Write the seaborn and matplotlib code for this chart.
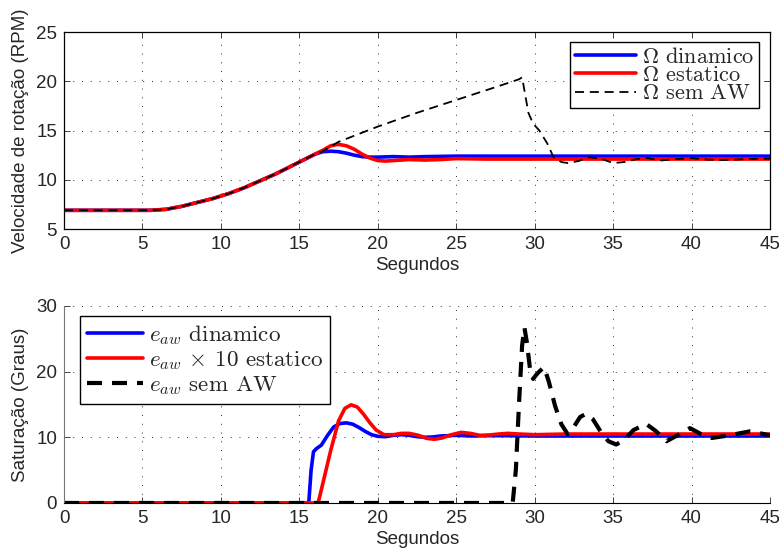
import seaborn as sns
import matplotlib.pyplot as plt

# Velocidade de rotação (RPM) - gráfico de cima
t_din = [0, 5.5, 6.5, 7.5, 8.5, 9.5, 10.5, 11.5, 12.5, 13.5, 14.5, 15.5, 16, 16.5, 17, 17.5,
         18, 18.5, 19, 19.5, 20, 21, 22, 23, 25, 30, 45]
w_din = [6.9, 6.9, 7.0, 7.3, 7.7, 8.1, 8.6, 9.2, 9.9, 10.6, 11.4, 12.2, 12.6, 12.85, 12.9, 12.85,
         12.7, 12.5, 12.35, 12.3, 12.3, 12.35, 12.3, 12.35, 12.4, 12.4, 12.4]

t_est = [0, 5.5, 6.5, 7.5, 8.5, 9.5, 10.5, 11.5, 12.5, 13.5, 14.5, 15.5, 16, 16.5, 17, 17.5,
         18, 18.5, 19, 19.5, 20, 20.5, 21, 22, 23, 24, 25, 27, 30, 45]
w_est = [6.9, 6.9, 7.0, 7.3, 7.7, 8.1, 8.6, 9.2, 9.9, 10.6, 11.4, 12.2, 12.6, 13.0, 13.45, 13.6,
         13.45, 13.1, 12.6, 12.2, 11.95, 11.9, 11.95, 12.05, 12.0, 12.05, 12.15, 12.1, 12.1, 12.1]

t_saw = [0, 5.5, 6.5, 7.5, 8.5, 9.5, 10.5, 11.5, 12.5, 13.5, 14.5, 15.5, 16, 16.5, 17, 17.5,
         20, 22.5, 25, 27.5, 29, 29.2, 29.6, 29.9, 30.3, 30.8, 31.2, 31.7, 32.1, 32.8, 33.5,
         34.3, 35, 35.7, 36.5, 37.2, 38, 39, 40, 41, 42, 43.5, 45]
w_saw = [6.9, 6.9, 7.0, 7.3, 7.7, 8.1, 8.6, 9.2, 9.9, 10.6, 11.4, 12.2, 12.6, 12.9, 13.4, 13.85,
         15.4, 16.8, 18.1, 19.4, 20.2, 20.4, 16.8, 15.7, 15.0, 13.7, 12.3, 11.8, 11.7, 11.9, 12.3,
         12.1, 11.7, 11.8, 12.1, 12.2, 11.95, 12.1, 12.2, 12.05, 12.0, 12.1, 12.15]

# Saturação (Graus) - gráfico de baixo
te_din = [0, 15.6, 15.75, 15.9, 16.1, 16.4, 16.8, 17.2, 17.6, 18.0, 18.4, 18.8, 19.2, 19.6, 20.0,
          20.5, 21.0, 21.5, 22.0, 22.5, 23.0, 23.5, 24.0, 25, 26, 27, 28, 30, 45]
e_din = [0, 0, 5.0, 7.8, 8.3, 8.8, 10.3, 11.6, 12.1, 12.2, 12.0, 11.5, 10.9, 10.4, 10.15,
         10.1, 10.3, 10.4, 10.3, 10.1, 10.0, 10.05, 10.2, 10.3, 10.2, 10.25, 10.25, 10.2, 10.2]

te_est = [0, 16.2, 16.5, 17.0, 17.5, 17.9, 18.3, 18.7, 19.1, 19.5, 19.9, 20.4, 21.0, 21.5, 22.0,
          22.6, 23.1, 23.6, 24.1, 24.7, 25.3, 25.9, 26.5, 27.1, 27.7, 28.3, 29, 30, 32, 45]
e_est = [0, 0, 3.0, 8.0, 12.5, 14.4, 14.95, 14.6, 13.5, 12.2, 11.1, 10.4, 10.4, 10.6, 10.6,
         10.3, 9.85, 9.7, 9.9, 10.4, 10.75, 10.6, 10.3, 10.35, 10.5, 10.6, 10.5, 10.4, 10.5, 10.5]

te_saw = [0, 28.6, 28.8, 29.0, 29.2, 29.35, 29.5, 29.7, 29.9, 30.2, 30.6, 30.9, 31.3, 31.7, 32.1,
          32.5, 32.9, 33.3, 33.7, 34.2, 34.7, 35.2, 35.7, 36.3, 37.1, 37.7, 38.4, 39.1, 39.9,
          40.6, 41.3, 42.4, 43.7, 44.4, 45]
e_saw = [0, 0, 5, 15, 24, 26.7, 24.5, 20.5, 18.9, 19.8, 20.7, 18.5, 14.8, 12.0, 10.5,
         11.6, 13.1, 13.6, 12.8, 10.9, 9.4, 8.9, 9.6, 11.1, 12.05, 11.0, 9.4, 10.3, 11.4,
         10.5, 9.9, 10.3, 10.9, 10.6, 10.3]

sns.set_style("ticks")
plt.rcParams["font.family"] = ["Liberation Sans", "DejaVu Sans"]
plt.rcParams["mathtext.fontset"] = "cm"

FS = 13.5

fig = plt.figure(figsize=(7.79, 5.54), dpi=100)
ax1 = fig.add_axes([0.0822, 0.5866, 0.9062, 0.3556])
ax2 = fig.add_axes([0.0822, 0.0921, 0.9062, 0.3556])

grid_kw = dict(color="#333333", linewidth=0.7, linestyle=(0, (1, 8)))

# Gráfico de cima
sns.lineplot(x=t_din, y=w_din, ax=ax1, color="blue", linewidth=2.6, label=r"$\Omega$ dinamico")
sns.lineplot(x=t_est, y=w_est, ax=ax1, color="red", linewidth=2.6, label=r"$\Omega$ estatico")
sns.lineplot(x=t_saw, y=w_saw, ax=ax1, color="black", linewidth=1.3, linestyle=(0, (5, 3.2)),
             label=r"$\Omega$ sem AW")
ax1.set_xlim(0, 45)
ax1.set_ylim(5, 25)
ax1.set_xticks(range(0, 46, 5))
ax1.set_yticks(range(5, 26, 5))
ax1.set_xlabel("Segundos", fontsize=FS, labelpad=3)
ax1.set_ylabel("Velocidade de rotação (RPM)", fontsize=FS, labelpad=5)
ax1.grid(True, **grid_kw)
ax1.tick_params(direction="in", top=True, right=True, labelsize=FS, length=4, width=0.6, pad=5)
for s in ax1.spines.values():
    s.set_linewidth(0.9)
    s.set_color("black")
leg1 = ax1.legend(loc="upper right", bbox_to_anchor=(0.984, 0.949), prop={"family": "cmr10", "size": 16},
                  handlelength=2.75, handletextpad=0.27, labelspacing=-0.05, borderpad=0.2,
                  borderaxespad=0, fancybox=False, framealpha=1, edgecolor="black")
leg1.get_frame().set_linewidth(1.0)

# Gráfico de baixo
sns.lineplot(x=te_din, y=e_din, ax=ax2, color="blue", linewidth=2.6, label=r"$e_{aw}$ dinamico")
sns.lineplot(x=te_est, y=e_est, ax=ax2, color="red", linewidth=2.6,
             label=r"$e_{aw}$ $\times$ 10 estatico")
sns.lineplot(x=te_saw, y=e_saw, ax=ax2, color="black", linewidth=3.0, linestyle=(0, (3.6, 2.4)),
             label=r"$e_{aw}$ sem AW")
ax2.set_xlim(0, 45)
ax2.set_ylim(0, 30)
ax2.set_xticks(range(0, 46, 5))
ax2.set_yticks(range(0, 31, 10))
ax2.set_xlabel("Segundos", fontsize=FS, labelpad=3)
ax2.set_ylabel("Saturação (Graus)", fontsize=FS, labelpad=5)
ax2.grid(True, **grid_kw)
ax2.tick_params(direction="in", labelsize=FS, length=4, width=0.6, pad=5)
ax2.spines["top"].set_visible(False)
ax2.spines["right"].set_visible(False)
ax2.spines["left"].set_color("#777777")
ax2.spines["bottom"].set_color("black")
leg2 = ax2.legend(loc="upper left", bbox_to_anchor=(0.0227, 0.949), prop={"family": "cmr10", "size": 16.6},
                  handlelength=2.45, handletextpad=0.22, labelspacing=0.1, borderpad=0.3,
                  borderaxespad=0, fancybox=False, framealpha=1, edgecolor="black")
leg2.get_frame().set_linewidth(1.0)

fig.savefig("out.png", dpi=100)
